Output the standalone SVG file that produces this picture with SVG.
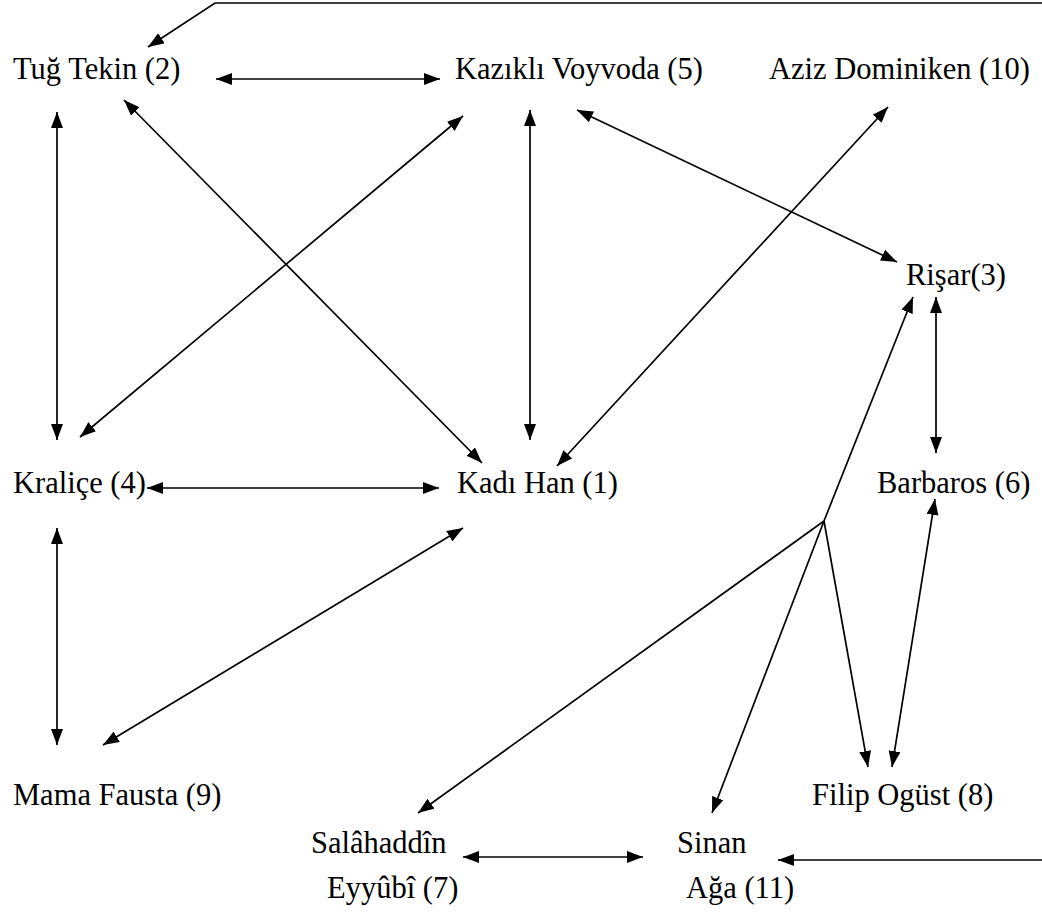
<svg xmlns="http://www.w3.org/2000/svg" width="1042" height="916" viewBox="0 0 1042 916">
  <style>
    .lbl { font-family: "Liberation Serif", "Times New Roman", serif; font-size: 30.5px; fill: #000; }
    .c { fill: none; stroke: #000; stroke-width: 1.7; }
    .a2 { marker-start: url(#ah); marker-end: url(#ah); }
    .a1 { marker-end: url(#ah); }
  </style>
  <defs>
    <marker id="ah" markerUnits="userSpaceOnUse" viewBox="0 0 16 12" markerWidth="16" markerHeight="12" refX="16" refY="6" orient="auto-start-reverse">
      <path d="M0,0 L16,6 L0,12 z" fill="#000"/>
    </marker>
  </defs>

  <rect width="1042" height="916" fill="#fff"/>

  <g id="connectors">
    <polyline class="c a1" points="1042,3 215,3 148,47"/>
    <line class="c a2" x1="216" y1="79" x2="440" y2="79"/>
    <line class="c a2" x1="57" y1="112" x2="57" y2="440"/>
    <line class="c a2" x1="124" y1="100" x2="482" y2="463"/>
    <line class="c a2" x1="463" y1="116" x2="80" y2="437"/>
    <line class="c a2" x1="530" y1="110" x2="530" y2="440"/>
    <line class="c a2" x1="577" y1="110" x2="897" y2="262"/>
    <line class="c a2" x1="888" y1="107" x2="557" y2="466"/>
    <line class="c a2" x1="936" y1="297" x2="936" y2="453"/>
    <line class="c a2" x1="147" y1="488" x2="439" y2="488"/>
    <line class="c a2" x1="57" y1="528" x2="57" y2="745"/>
    <line class="c a2" x1="463" y1="528" x2="103" y2="745"/>
    <!-- fork below Rişar -->
    <line class="c a1" x1="824" y1="521" x2="913" y2="297"/>
    <line class="c a1" x1="824" y1="521" x2="418" y2="813"/>
    <line class="c a1" x1="824" y1="521" x2="712" y2="813"/>
    <line class="c a1" x1="824" y1="521" x2="868" y2="767"/>
    <line class="c a2" x1="935" y1="499" x2="892" y2="767"/>
    <line class="c a2" x1="463" y1="857" x2="643" y2="857"/>
    <line class="c a1" x1="1042" y1="860" x2="778" y2="860"/>
  </g>

  <g id="n2"><text class="lbl" x="13" y="79">Tuğ Tekin (2)</text></g>
  <g id="n5"><text class="lbl" x="455" y="79">Kazıklı Voyvoda (5)</text></g>
  <g id="n10"><text class="lbl" x="769" y="79">Aziz Dominiken (10)</text></g>
  <g id="n3"><text class="lbl" x="906" y="285">Rişar(3)</text></g>
  <g id="n4"><text class="lbl" x="13" y="493">Kraliçe (4)</text></g>
  <g id="n1"><text class="lbl" x="457" y="493">Kadı Han (1)</text></g>
  <g id="n6"><text class="lbl" x="877" y="493">Barbaros (6)</text></g>
  <g id="n9"><text class="lbl" x="13" y="805">Mama Fausta (9)</text></g>
  <g id="n8"><text class="lbl" x="812" y="805">Filip Ogüst (8)</text></g>
  <g id="n7">
    <text class="lbl" x="311" y="853">Salâhaddîn</text>
    <text class="lbl" x="327" y="898">Eyyûbî (7)</text>
  </g>
  <g id="n11">
    <text class="lbl" x="677" y="853">Sinan</text>
    <text class="lbl" x="686" y="898">Ağa (11)</text>
  </g>
</svg>
